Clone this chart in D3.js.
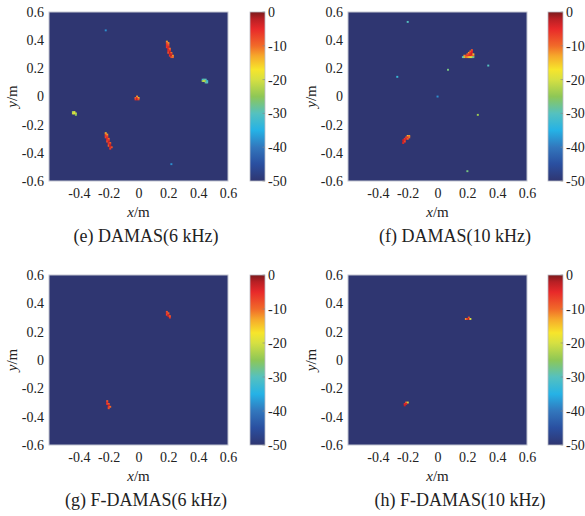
<!DOCTYPE html>
<html>
<head>
<meta charset="utf-8">
<script src="https://cdn.jsdelivr.net/npm/d3@7"></script>
<style>
  body { margin: 0; background: #fff; }
  svg, svg text { font-family: "Liberation Serif", "DejaVu Serif", serif; }
</style>
</head>
<body>
<svg id="chart" width="585" height="516"></svg>
<script>
// panel captions
const titles = ["(e) DAMAS(6 kHz)", "(f) DAMAS(10 kHz)", "(g) F-DAMAS(6 kHz)", "(h) F-DAMAS(10 kHz)"];

// axis ticks (m) and colour bar ticks (dB)
const xTicks = [-0.4, -0.2, 0, 0.2, 0.4, 0.6];
const yTicks = [-0.6, -0.4, -0.2, 0, 0.2, 0.4, 0.6];
const cbTicks = [0, -10, -20, -30, -40, -50];

// colour map stops (dB -> colour)
const cbValues = [-50, -45, -40, -35, -30, -25, -20, -17, -13, -10, -5, -2, 0];
const cbColors = ["#2f3671", "#2a4fa0", "#3277bd", "#25b2e6", "#55c1bf", "#8ec756", "#d6e042",
                  "#f7e52b", "#f6a82b", "#f16a29", "#e8292a", "#b81f24", "#7b1a1c"];

// source map cells [x (m), y (m), level (dB)]; everything else is at -50 dB
const cellsE = [
  // upper streak
  [0.19, 0.39, -12], [0.19, 0.38, -8], [0.20, 0.38, -12], [0.19, 0.37, -6], [0.20, 0.37, -9],
  [0.19, 0.36, -5], [0.20, 0.36, -7], [0.19, 0.35, -6], [0.20, 0.35, -4], [0.20, 0.34, -5],
  [0.21, 0.34, -10], [0.20, 0.33, -4], [0.21, 0.33, -8], [0.20, 0.32, -6], [0.21, 0.32, -3],
  [0.20, 0.31, -8], [0.21, 0.31, -2], [0.22, 0.31, -10], [0.21, 0.30, -3], [0.22, 0.30, -4],
  [0.21, 0.29, -6], [0.22, 0.29, -2], [0.23, 0.29, -12], [0.22, 0.28, -8], [0.23, 0.28, -10],
  // lower streak
  [-0.22, -0.26, -14], [-0.22, -0.27, -8], [-0.21, -0.27, -12], [-0.22, -0.28, -6], [-0.21, -0.28, -9],
  [-0.22, -0.29, -7], [-0.21, -0.29, -5], [-0.21, -0.30, -4], [-0.20, -0.30, -10], [-0.21, -0.31, -5],
  [-0.20, -0.31, -6], [-0.21, -0.32, -8], [-0.20, -0.32, -3], [-0.20, -0.33, -4], [-0.19, -0.33, -9],
  [-0.20, -0.34, -6], [-0.19, -0.34, -3], [-0.20, -0.35, -9], [-0.19, -0.35, -2], [-0.19, -0.36, -3],
  [-0.18, -0.36, -8], [-0.19, -0.37, -6],
  // right side lobe
  [0.43, 0.12, -32], [0.44, 0.12, -28], [0.45, 0.12, -30], [0.43, 0.11, -24], [0.44, 0.11, -20],
  [0.45, 0.11, -25], [0.46, 0.11, -33], [0.45, 0.10, -28], [0.46, 0.10, -30],
  // left side lobe
  [-0.44, -0.11, -24], [-0.43, -0.11, -20], [-0.44, -0.12, -21], [-0.43, -0.12, -18],
  [-0.42, -0.12, -22], [-0.42, -0.13, -25],
  // centre
  [-0.01, 0.00, -12], [-0.02, -0.01, -10], [-0.01, -0.01, -5], [0.00, -0.01, -14],
  [-0.02, -0.02, -6], [-0.01, -0.02, -3], [0.00, -0.02, -8],
  // isolated dots
  [-0.22, 0.47, -38], [0.22, -0.48, -38]
];

const cellsF = [
  // upper source
  [0.23, 0.33, -8], [0.22, 0.32, -10], [0.23, 0.32, -5], [0.21, 0.31, -12], [0.22, 0.31, -6],
  [0.23, 0.31, -4], [0.20, 0.30, -9], [0.21, 0.30, -7], [0.22, 0.30, -5], [0.23, 0.30, -3],
  [0.24, 0.30, -15], [0.18, 0.29, -12], [0.19, 0.29, -8], [0.20, 0.29, -6], [0.21, 0.29, -5],
  [0.22, 0.29, -4], [0.23, 0.29, -6], [0.24, 0.29, -10], [0.17, 0.28, -30], [0.18, 0.28, -22],
  [0.19, 0.28, -10], [0.20, 0.28, -12], [0.21, 0.28, -14], [0.22, 0.28, -18], [0.23, 0.28, -20],
  [0.24, 0.28, -28],
  // lower source
  [-0.20, -0.28, -14], [-0.19, -0.28, -12], [-0.21, -0.29, -8], [-0.20, -0.29, -5], [-0.19, -0.29, -10],
  [-0.22, -0.30, -6], [-0.21, -0.30, -4], [-0.20, -0.30, -9], [-0.23, -0.31, -3], [-0.22, -0.31, -5],
  [-0.23, -0.32, -2], [-0.22, -0.32, -7], [-0.23, -0.33, -4],
  // isolated dots
  [-0.20, 0.53, -30], [0.07, 0.19, -27], [0.34, 0.22, -30], [-0.27, 0.14, -33],
  [0.00, 0.00, -38], [0.27, -0.13, -24], [0.20, -0.53, -27]
];

const cellsG = [
  [0.19, 0.34, -8], [0.19, 0.33, -5], [0.20, 0.33, -10], [0.19, 0.32, -7], [0.20, 0.32, -4],
  [0.20, 0.31, -3], [0.21, 0.31, -9], [0.21, 0.30, -6],
  [-0.21, -0.29, -9], [-0.21, -0.30, -5], [-0.21, -0.31, -6], [-0.20, -0.31, -9], [-0.20, -0.32, -3],
  [-0.20, -0.33, -5], [-0.19, -0.33, -10], [-0.20, -0.34, -8]
];

const cellsH = [
  [0.21, 0.30, -8], [0.19, 0.29, -12], [0.20, 0.29, -6], [0.21, 0.29, -3], [0.22, 0.29, -20],
  [-0.20, -0.30, -20], [-0.21, -0.30, -10], [-0.22, -0.31, -5], [-0.21, -0.31, -4], [-0.22, -0.32, -3]
];

// layout of the four panels (pixels)
const panels = [
  { cells: cellsE, x0: 49,  x1: 228, y0: 12,  y1: 181, cb: 250, tx: 146 },
  { cells: cellsF, x0: 348, x1: 527, y0: 12,  y1: 181, cb: 548, tx: 455 },
  { cells: cellsG, x0: 49,  x1: 228, y0: 275, y1: 445, cb: 250, tx: 146 },
  { cells: cellsH, x0: 348, x1: 527, y0: 275, y1: 445, cb: 548, tx: 460 }
];

const FONT = "Liberation Serif, DejaVu Serif, serif";
const svg = d3.select("#chart");
const step = 0.01;
const fmt = d => String(+d.toFixed(1));

const color = d3.scaleLinear()
    .domain(cbValues)
    .range(cbColors)
    .clamp(true);

// gradient for the colour bars
const grad = svg.append("defs").append("linearGradient")
    .attr("id", "cbar")
    .attr("x1", 0).attr("y1", 1).attr("x2", 0).attr("y2", 0);
grad.selectAll("stop")
    .data(cbValues)
    .join("stop")
    .attr("offset", d => (d + 50) / 50)
    .attr("stop-color", d => color(d));

panels.forEach((p, i) => {
    const x = d3.scaleLinear().domain([-0.6, 0.6]).range([p.x0, p.x1]);
    const y = d3.scaleLinear().domain([-0.6, 0.6]).range([p.y1, p.y0]);
    const g = svg.append("g").attr("font-family", FONT);

    // background level
    g.append("rect")
        .attr("x", p.x0).attr("y", p.y0)
        .attr("width", p.x1 - p.x0).attr("height", p.y1 - p.y0)
        .attr("fill", color(-50));

    g.selectAll(".cell")
        .data(p.cells)
        .join("rect")
        .attr("class", "cell")
        .attr("x", d => x(d[0] - step / 2) - 0.2)
        .attr("y", d => y(d[1] + step / 2) - 0.2)
        .attr("width", x(step) - x(0) + 0.5)
        .attr("height", y(0) - y(step) + 0.5)
        .attr("fill", d => color(d[2]));

    g.append("rect")
        .attr("x", p.x0).attr("y", p.y0)
        .attr("width", p.x1 - p.x0).attr("height", p.y1 - p.y0)
        .attr("fill", "none")
        .attr("stroke", "#c3c6d2")
        .attr("stroke-width", 1);

    // axes
    const ax = g.append("g")
        .attr("transform", `translate(0,${p.y1})`)
        .call(d3.axisBottom(x).tickValues(xTicks).tickFormat(fmt).tickSize(0).tickPadding(7));
    const ay = g.append("g")
        .attr("transform", `translate(${p.x0},0)`)
        .call(d3.axisLeft(y).tickValues(yTicks).tickFormat(fmt).tickSize(0).tickPadding(5));
    [ax, ay].forEach(a => {
        a.attr("font-family", FONT).attr("font-size", 14);
        a.select(".domain").remove();
        a.selectAll("text")
            .attr("font-family", FONT)
            .attr("font-size", 14)
            .attr("fill", "#222");
    });

    // axis labels
    const xl = g.append("text")
        .attr("x", (p.x0 + p.x1) / 2)
        .attr("y", p.y1 + 36)
        .attr("text-anchor", "middle")
        .attr("font-size", 15)
        .attr("fill", "#222");
    xl.append("tspan").attr("font-style", "italic").text("x");
    xl.append("tspan").text("/m");

    const yl = g.append("text")
        .attr("transform", `translate(${p.x0 - 32},${(p.y0 + p.y1) / 2}) rotate(-90)`)
        .attr("text-anchor", "middle")
        .attr("font-size", 15)
        .attr("fill", "#222");
    yl.append("tspan").attr("font-style", "italic").text("y");
    yl.append("tspan").text("/m");

    // caption
    g.append("text")
        .attr("x", p.tx)
        .attr("y", p.y1 + 61)
        .attr("text-anchor", "middle")
        .attr("font-size", 18)
        .attr("fill", "#222")
        .text(titles[i]);

    // colour bar
    const cbY = d3.scaleLinear().domain([-50, 0]).range([p.y1, p.y0]);
    const cbW = 15;
    g.append("rect")
        .attr("x", p.cb).attr("y", p.y0)
        .attr("width", cbW).attr("height", p.y1 - p.y0)
        .attr("fill", "url(#cbar)")
        .attr("stroke", "#b9bcc6")
        .attr("stroke-width", 0.8);
    g.selectAll(".cbtick")
        .data(cbTicks)
        .join("line")
        .attr("class", "cbtick")
        .attr("x1", p.cb + cbW - 2.5).attr("x2", p.cb + cbW)
        .attr("y1", d => cbY(d)).attr("y2", d => cbY(d))
        .attr("stroke", "#888")
        .attr("stroke-width", 0.6);
    g.selectAll(".cblab")
        .data(cbTicks)
        .join("text")
        .attr("class", "cblab")
        .attr("x", p.cb + cbW + 3)
        .attr("y", d => cbY(d))
        .attr("dy", "0.35em")
        .attr("font-size", 14)
        .attr("fill", "#222")
        .text(d => String(d));
});
</script>
</body>
</html>
